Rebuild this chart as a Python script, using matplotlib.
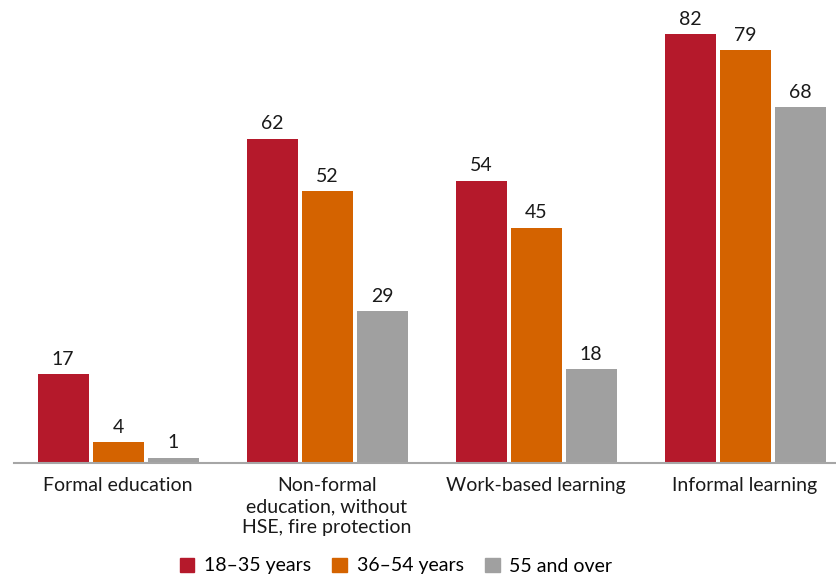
import numpy as np
import matplotlib
matplotlib.use("Agg")
import matplotlib.pyplot as plt
from matplotlib.patches import Patch

plt.rcParams['font.family'] = ['Lato', 'DejaVu Sans']

# participation by learning type and age group (%)
categories = ["Formal education",
              "Non-formal\neducation, without\nHSE, fire protection",
              "Work-based learning",
              "Informal learning"]
series = ["18\u201335 years", "36\u201354 years", "55 and over"]
young = [17, 62, 54, 82]
middle = [4, 52, 45, 79]
older = [1, 29, 18, 68]
colors = ["#B5192B", "#D46300", "#A0A0A0"]

fig = plt.figure(figsize=(8.36, 5.75), dpi=100)
# axes runs a little past the right edge, like the original export
ax = fig.add_axes([13.5 / 836, 112 / 575, 836 / 836, 463 / 575])

x = np.arange(len(categories))
width = 51 / 209
step = 55 / 209
for i, (vals, col) in enumerate(zip([young, middle, older], colors)):
    pos = x + (i - 1) * step
    ax.bar(pos, vals, width=width, color=col)
    for p, v in zip(pos, vals):
        ax.text(p, v + 1.2, str(v), ha="center", va="bottom",
                fontsize=14, color="#1a1a1a")

ax.set_xlim(-0.5, len(categories) - 0.5)
ax.set_ylim(0, 463 / 5.23)
for s in ["top", "right", "left"]:
    ax.spines[s].set_visible(False)
ax.spines["bottom"].set_color("#A6A6A6")
ax.spines["bottom"].set_linewidth(1.5)
ax.set_yticks([])
ax.set_xticks(x)
ax.set_xticklabels(categories, fontsize=14, color="#1a1a1a", linespacing=1.3)
ax.tick_params(axis="x", length=0, pad=10)

handles = [Patch(color=c) for c in colors]
fig.legend(handles, series, loc="center", bbox_to_anchor=(396 / 836, 1 - 566 / 575),
           ncol=3, frameon=False, fontsize=14, handlelength=0.75, handleheight=0.75,
           handletextpad=0.5, columnspacing=1.1)

fig.savefig("out.png", dpi=100)
